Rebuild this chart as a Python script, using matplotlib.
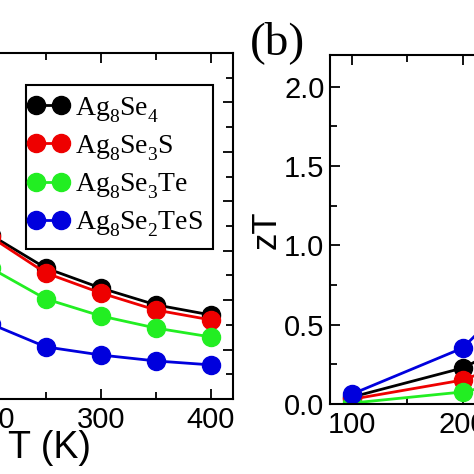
import matplotlib
matplotlib.use('Agg')
import matplotlib.pyplot as plt
from matplotlib.ticker import MultipleLocator
from matplotlib.legend_handler import HandlerLine2D
from matplotlib import _mathtext

plt.rcParams['mathtext.fontset'] = 'custom'
plt.rcParams['mathtext.rm'] = 'Liberation Serif'
plt.rcParams['mathtext.it'] = 'Liberation Serif:italic'
plt.rcParams['mathtext.bf'] = 'Liberation Serif:bold'
# drop the subscripts a bit lower, like the original figure
_mathtext.FontConstantsBase.sub1 = 0.6

# temperatures
T_left = [200, 250, 300, 350, 400]
T_right = [100, 200, 250]

labels = [r'Ag$_8$Se$_4$', r'Ag$_8$Se$_3$S', r'Ag$_8$Se$_3$Te', r'Ag$_8$Se$_2$TeS']
colors = ['#000000', '#ee0000', '#22ee22', '#0000dd']

# left panel (a) values
left_black = [0.664, 0.530, 0.449, 0.381, 0.340]
left_red = [0.656, 0.510, 0.429, 0.360, 0.320]
left_green = [0.530, 0.405, 0.336, 0.287, 0.251]
left_blue = [0.304, 0.211, 0.178, 0.154, 0.138]

# right panel (b) zT values
zt_black = [0.044, 0.227, 0.40]
zt_red = [0.030, 0.151, 0.28]
zt_green = [0.006, 0.076, 0.15]
zt_blue = [0.063, 0.353, 0.70]

left_series = [left_black, left_red, left_green, left_blue]
right_series = [zt_black, zt_red, zt_green, zt_blue]

W = 474.0
fig = plt.figure(figsize=(4.74, 4.74), dpi=100)
ax1 = fig.add_axes([-141.6 / W, (W - 399) / W, 374.6 / W, 346 / W])
ax2 = fig.add_axes([330 / W, (W - 404) / W, 376 / W, 349 / W])

for y, c, lab in zip(left_series, colors, labels):
    ax1.plot(T_left, y, '-o', color=c, lw=2, ms=13, mec=c, label=lab)
for y, c in zip(right_series, colors):
    ax2.plot(T_right, y, '-o', color=c, lw=2, ms=13, mec=c)

for ax in (ax1, ax2):
    ax.set_xlim(80, 420)
    ax.xaxis.set_major_locator(MultipleLocator(100))
    ax.xaxis.set_minor_locator(MultipleLocator(50))
    ax.tick_params(which='both', direction='in', top=True, right=True,
                   width=1.3, labelsize=21, pad=5)
    ax.tick_params(which='major', length=7)
    ax.tick_params(which='minor', length=5)
    for s in ax.spines.values():
        s.set_linewidth(1.5)

ax1.set_ylim(0, 1.4)
ax1.yaxis.set_major_locator(MultipleLocator(0.2))
ax1.yaxis.set_minor_locator(MultipleLocator(0.1))
ax1.set_xlabel('T (K)', fontsize=27, family='Liberation Sans')
ax1.xaxis.set_label_coords(0.51, -0.09)

ax2.set_ylim(0, 2.2)
ax2.yaxis.set_major_locator(MultipleLocator(0.5))
ax2.yaxis.set_minor_locator(MultipleLocator(0.25))
ax2.yaxis.set_major_formatter(plt.FormatStrFormatter('%.1f'))
ax2.tick_params(axis='y', pad=4)
ax2.set_ylabel('zT', fontsize=25, family='Liberation Sans', labelpad=1)

for ax in (ax1, ax2):
    for t in ax.get_xticklabels() + ax.get_yticklabels():
        t.set_fontfamily('Liberation Sans')

leg = ax1.legend(loc='upper right', bbox_to_anchor=(0.9466, 0.9075),
                 borderaxespad=0, numpoints=2, handlelength=0.9,
                 handletextpad=0.5, borderpad=0.36, labelspacing=0.3,
                 fancybox=False, framealpha=1, edgecolor='black',
                 prop={'family': 'Liberation Serif', 'size': 20},
                 handler_map={plt.Line2D: HandlerLine2D(marker_pad=0.0)})
leg.get_frame().set_linewidth(1.5)

fig.text(278 / W, 1 - 43 / W, '(b)', ha='center', va='center',
         fontsize=34, family='Liberation Serif')

fig.savefig('out.png', dpi=100)
